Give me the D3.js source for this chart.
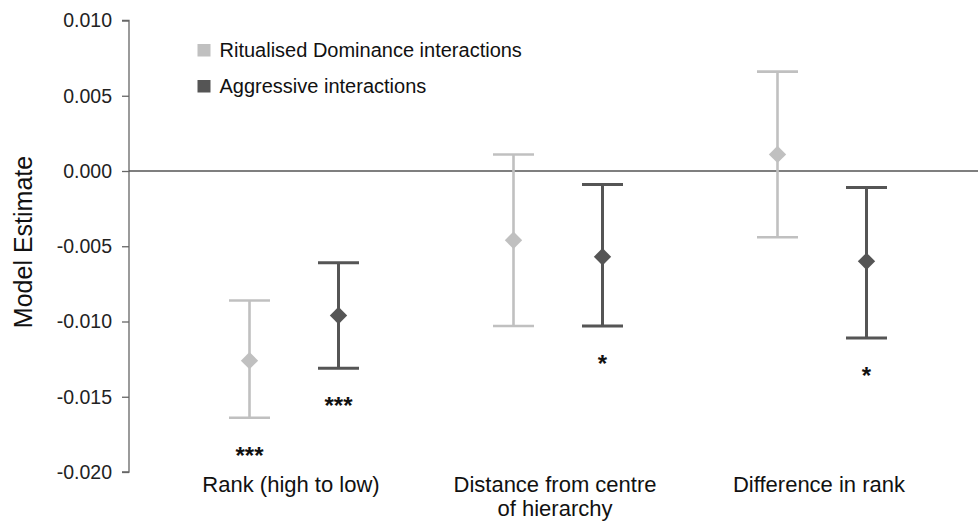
<!DOCTYPE html>
<html>
<head>
<meta charset="utf-8">
<script src="https://cdn.jsdelivr.net/npm/d3@7"></script>
<style>
  body { margin: 0; background: #fff; }
  svg { display: block; font-family: "Liberation Sans", Arial, sans-serif; }
</style>
</head>
<body>
<svg id="chart" width="978" height="532"></svg>
<script>
// categories (label lines) and series
const categories = ["rank", "distance", "difference"];
const categoryLabels = [["Rank (high to low)"], ["Distance from centre", "of hierarchy"], ["Difference in rank"]];
const seriesNames = ["Ritualised Dominance interactions", "Aggressive interactions"];
const seriesColors = ["#c0c0c0", "#555555"];

// estimates with lower / upper bounds
const ritualEstimate = [-0.0126, -0.0046, 0.0011];
const ritualLower = [-0.0164, -0.0103, -0.0044];
const ritualUpper = [-0.0086, 0.0011, 0.0066];
const ritualSig = ["***", "", ""];

const aggressiveEstimate = [-0.0096, -0.0057, -0.0060];
const aggressiveLower = [-0.0131, -0.0103, -0.0111];
const aggressiveUpper = [-0.0061, -0.0009, -0.0011];
const aggressiveSig = ["***", "*", "*"];

const yTicks = [0.010, 0.005, 0.000, -0.005, -0.010, -0.015, -0.020];

const svg = d3.select("#chart");
const W = 978, H = 532;
const axisX = 129;

const y = d3.scaleLinear().domain([-0.020, 0.010]).range([472, 20.5]);
const x = d3.scalePoint().domain(categories).range([162, 954]).padding(0.5);
const xs = d3.scalePoint().domain(seriesNames).range([-44.5, 44.5]);

// build rows
const rows = [];
categories.forEach((c, i) => {
  rows.push({ cat: c, series: seriesNames[0], est: ritualEstimate[i], lo: ritualLower[i], hi: ritualUpper[i], sig: ritualSig[i], color: seriesColors[0], w: 2.6 });
  rows.push({ cat: c, series: seriesNames[1], est: aggressiveEstimate[i], lo: aggressiveLower[i], hi: aggressiveUpper[i], sig: aggressiveSig[i], color: seriesColors[1], w: 3 });
});

// y axis
const yAxis = svg.append("g")
  .attr("transform", `translate(${axisX},0)`)
  .call(d3.axisLeft(y).tickValues(yTicks).tickSize(7).tickPadding(10).tickFormat(d3.format(".3f")));
yAxis.select(".domain").attr("stroke", "#666").attr("stroke-width", 1.3).attr("d", `M-7,${y(0.010)}H0V${y(-0.020)}H-7`);
yAxis.selectAll(".tick line").attr("stroke", "#666").attr("stroke-width", 1.3);
yAxis.selectAll(".tick text")
  .attr("fill", "#222")
  .style("font-size", "19.5px")
  .text(d => d3.format(".3f")(d).replace("−", "-"));

// zero line
svg.append("line")
  .attr("x1", axisX).attr("x2", W)
  .attr("y1", y(0)).attr("y2", y(0))
  .attr("stroke", "#555").attr("stroke-width", 1.3);

// y title
svg.append("text")
  .attr("transform", `translate(32,242) rotate(-90)`)
  .attr("text-anchor", "middle")
  .attr("fill", "#111")
  .style("font-size", "25px")
  .text("Model Estimate");

// category labels
const catLabel = svg.append("g").selectAll("text")
  .data(categories)
  .join("text")
  .attr("y", 492)
  .attr("text-anchor", "middle")
  .attr("fill", "#111")
  .style("font-size", "22px");
catLabel.each(function (d, i) {
  d3.select(this).selectAll("tspan")
    .data(categoryLabels[i])
    .join("tspan")
    .attr("x", x(d) - 3)
    .attr("dy", (t, j) => j === 0 ? 0 : 23.5)
    .text(t => t);
});

// error bars
const bars = svg.append("g").selectAll("g")
  .data(rows)
  .join("g")
  .attr("transform", d => `translate(${x(d.cat) + xs(d.series)},0)`);

bars.append("line")
  .attr("y1", d => y(d.lo)).attr("y2", d => y(d.hi))
  .attr("stroke", d => d.color).attr("stroke-width", d => d.w);
bars.selectAll(".cap")
  .data(d => [d.lo, d.hi].map(v => ({ v, d })))
  .join("line")
  .attr("class", "cap")
  .attr("x1", -20.5).attr("x2", 20.5)
  .attr("y1", e => y(e.v)).attr("y2", e => y(e.v))
  .attr("stroke", e => e.d.color).attr("stroke-width", e => e.d.w);

bars.append("path")
  .attr("d", d3.symbol(d3.symbolSquare, 150))
  .attr("transform", d => `translate(0,${y(d.est)}) rotate(45)`)
  .attr("fill", d => d.color);

// significance stars
bars.append("text")
  .attr("y", d => y(d.lo) + 33 + 13)
  .attr("text-anchor", "middle")
  .attr("fill", "#111")
  .style("font-size", "24px")
  .style("font-weight", "bold")
  .text(d => d.sig);

// legend
const legend = svg.append("g").selectAll("g")
  .data(seriesNames)
  .join("g")
  .attr("transform", (d, i) => `translate(197.5,${44 + i * 36})`);
legend.append("rect")
  .attr("width", 13).attr("height", 12.5)
  .attr("fill", (d, i) => seriesColors[i]);
legend.append("text")
  .attr("x", 22).attr("y", 13.3)
  .attr("fill", "#111")
  .style("font-size", "20px")
  .text(d => d);
</script>
</body>
</html>
